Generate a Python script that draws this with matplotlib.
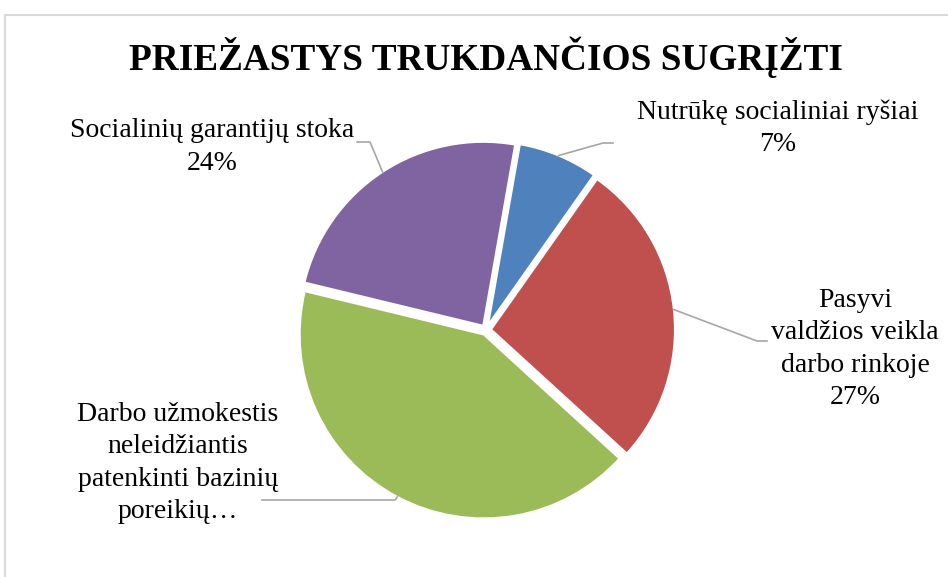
import numpy as np
import matplotlib
matplotlib.use("Agg")
import matplotlib.pyplot as plt
from matplotlib.lines import Line2D

W, H = 948, 577

title = "PRIEŽASTYS TRUKDANČIOS SUGRĮŽTI"
categories = [
    "Nutrūkę socialiniai ryšiai",
    "Pasyvi\nvaldžios veikla\ndarbo rinkoje",
    "Darbo užmokestis\nneleidžiantis\npatenkinti bazinių\nporeikių…",
    "Socialinių garantijų stoka",
]
shares = [7, 27, 42, 24]
show_pct = [True, True, False, True]   # green label is cut off in the original
colors = ["#4F81BD", "#C0504D", "#9BBB59", "#8064A2"]

# label layout in pixel coords (x, y from top): text centre and leader elbow/end
label_xy = [(778, 128), (855, 349), (178, 463), (212, 147)]
elbows = [[(603, 143), (613, 143)],
          [(757, 341), (767, 341)],
          [(395, 500), (262, 500)],
          [(370, 142), (357, 142)]]

plt.rcParams["font.family"] = ["Liberation Serif", "DejaVu Serif"]

fig = plt.figure(figsize=(W / 100, H / 100), dpi=100)
ax = fig.add_axes([0, 0, 1, 1])

cx, cy, R = 486, H - 330, 184
wedges, _ = ax.pie(shares, colors=colors, startangle=80, counterclock=False,
                   center=(cx, cy), radius=R, explode=[5] * 4,
                   wedgeprops=dict(edgecolor="white", linewidth=1.5),
                   frame=True)
ax.set_xlim(0, W)
ax.set_ylim(0, H)
ax.set_aspect("equal")
ax.axis("off")

for w, lab, pct, show, (tx, ty), pts in zip(wedges, categories, shares, show_pct,
                                              label_xy, elbows):
    mid = np.deg2rad((w.theta1 + w.theta2) / 2)
    wx, wy = w.center
    sx, sy = wx + w.r * np.cos(mid), wy + w.r * np.sin(mid)
    xs = [sx] + [p[0] for p in pts]
    ys = [sy] + [H - p[1] for p in pts]
    ax.plot(xs, ys, color="#A6A6A6", linewidth=1.2)
    txt = f"{lab}\n{pct}%" if show else lab
    ax.text(tx, H - ty, txt, ha="center", va="center",
            fontsize=20, linespacing=1.38, color="black")

ax.text(486, H - 57, title, ha="center", va="center", fontsize=26.8,
        fontweight="bold", color="black")

# chart border (light gray frame, cut off right and bottom)
fig.add_artist(Line2D([5 / W, 1], [1 - 14.5 / H, 1 - 14.5 / H],
                      transform=fig.transFigure, color="#D9D9D9", linewidth=1.5))
fig.add_artist(Line2D([5 / W, 5 / W], [0, 1 - 14.5 / H],
                      transform=fig.transFigure, color="#D9D9D9", linewidth=1.5))

fig.savefig("out.png", dpi=100, facecolor="white")
